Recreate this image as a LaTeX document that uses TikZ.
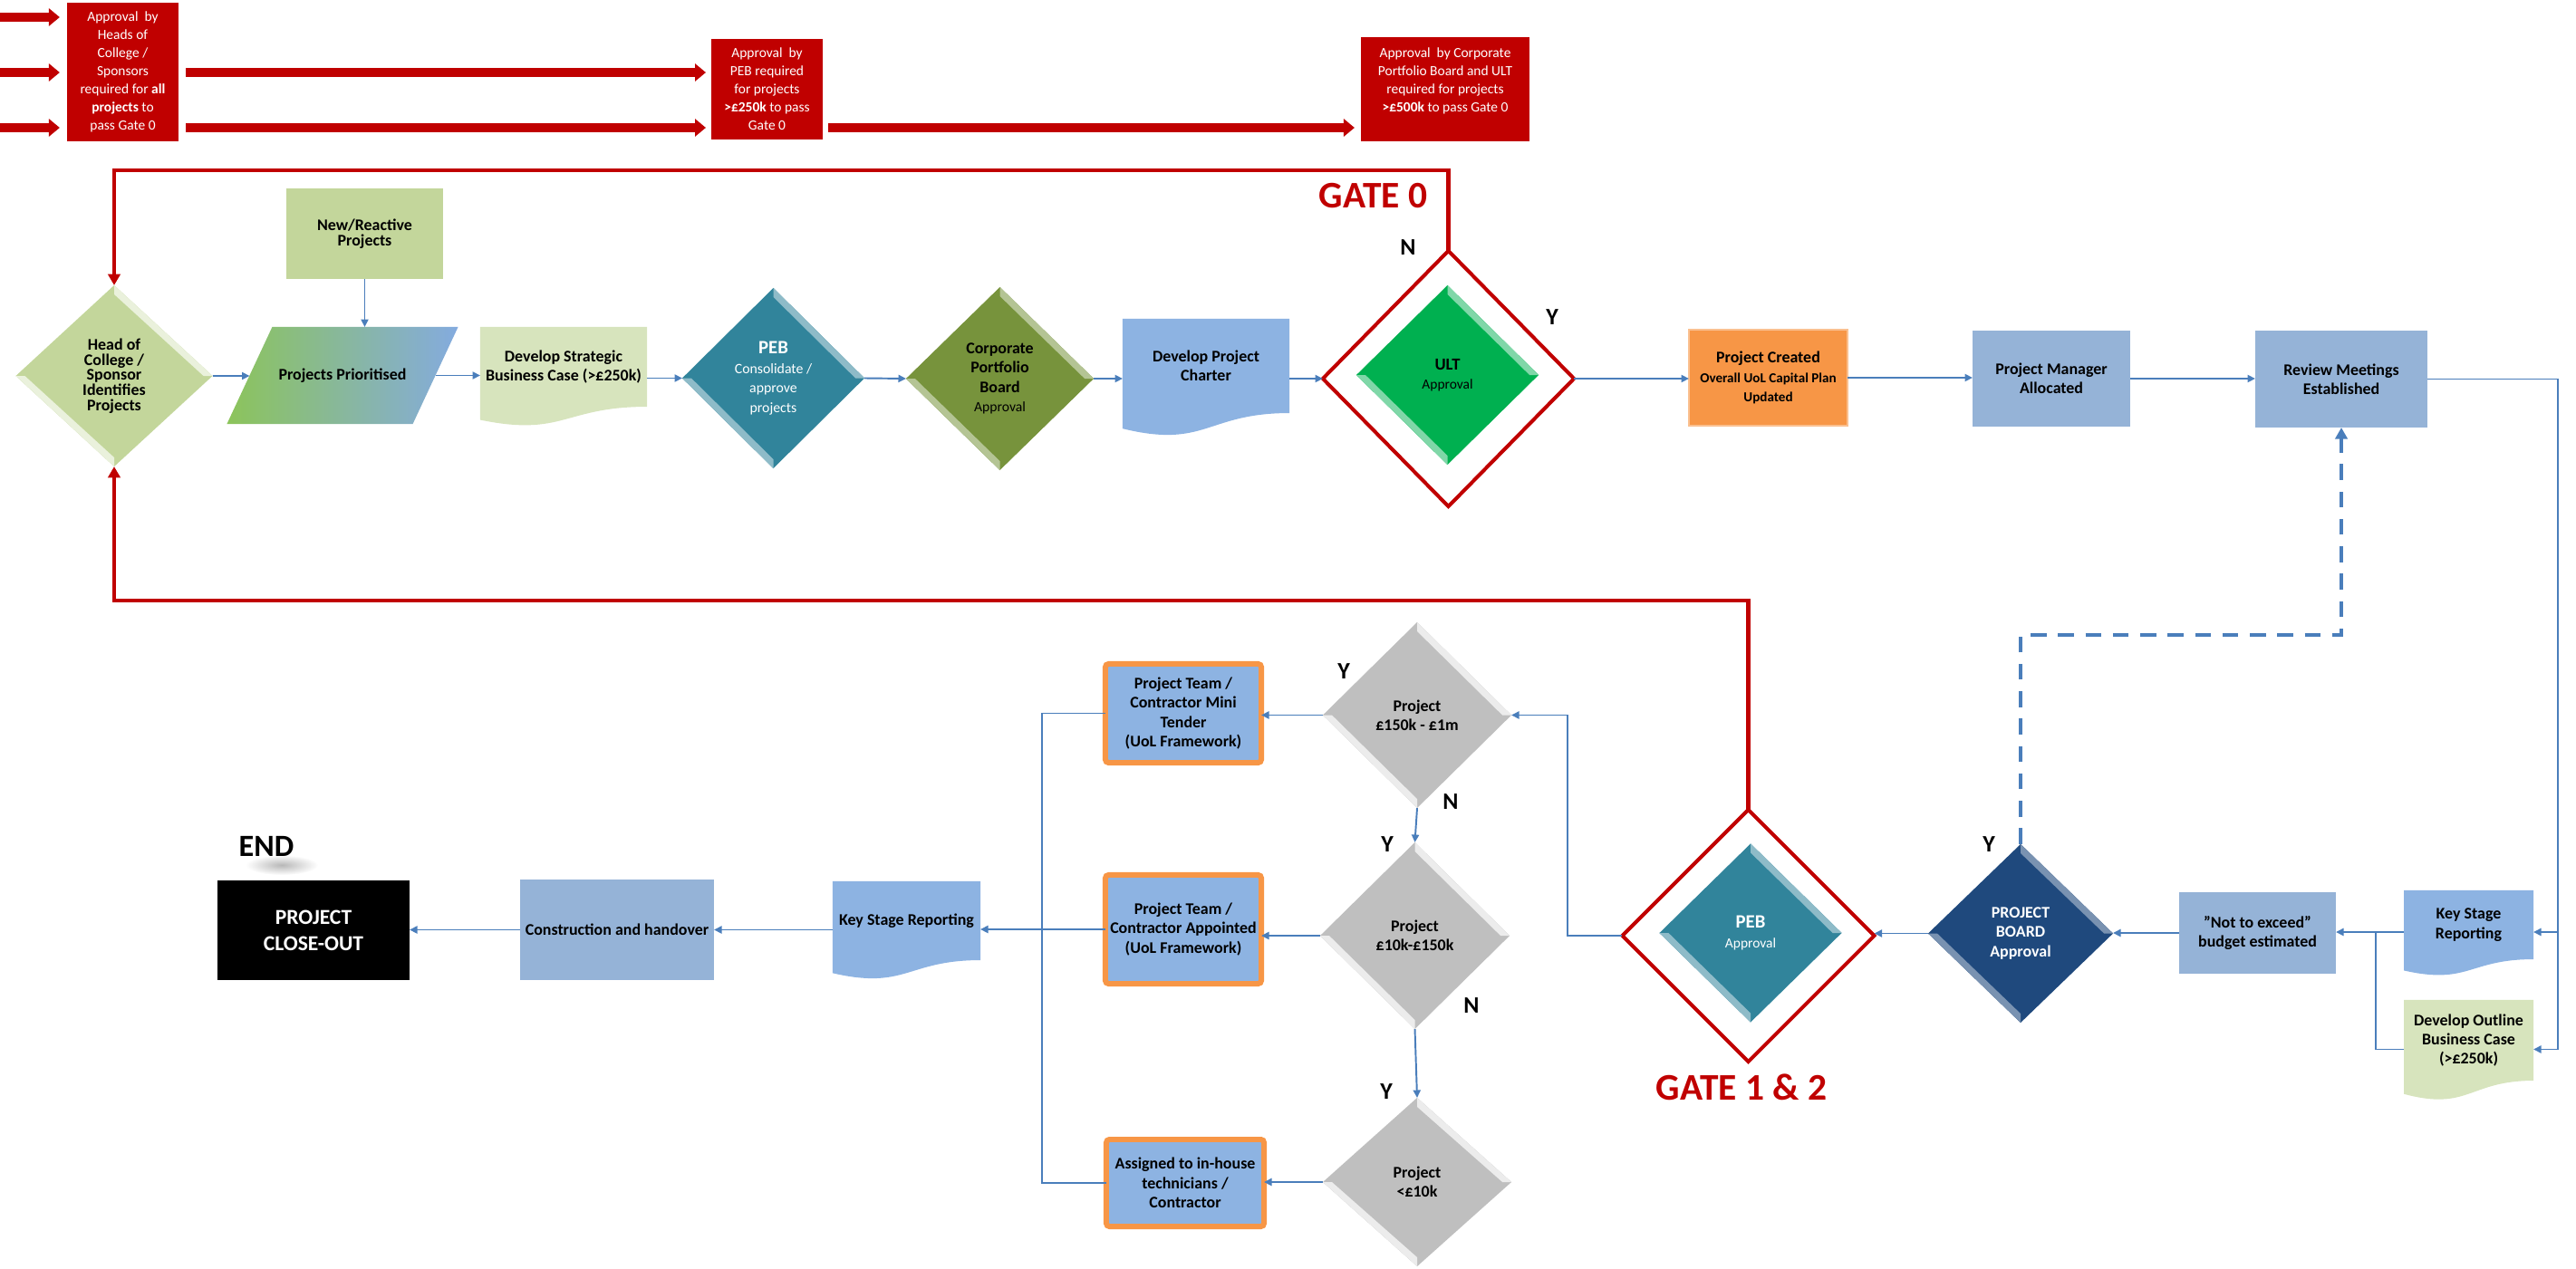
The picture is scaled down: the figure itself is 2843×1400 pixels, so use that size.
\documentclass[tikz,border=0pt]{standalone}
\usepackage{fontspec}
\setmainfont{Carlito}
\usetikzlibrary{shapes.geometric,arrows.meta,calc,backgrounds}

\definecolor{cRed}{HTML}{C00000}
\definecolor{cLeaf}{HTML}{C3D69B}
\definecolor{cPale}{HTML}{D7E4BD}
\definecolor{cTeal}{HTML}{31849B}
\definecolor{cOlive}{HTML}{77933C}
\definecolor{cSky}{HTML}{8DB3E2}
\definecolor{cSteel}{HTML}{95B3D7}
\definecolor{cUlt}{HTML}{00B050}
\definecolor{cOrange}{HTML}{F79646}
\definecolor{cNavy}{HTML}{1F497D}
\definecolor{cGrey}{HTML}{BFBFBF}
\definecolor{cLine}{HTML}{4A7EBB}
\definecolor{cGradA}{HTML}{8CC45A}
\definecolor{cGradB}{HTML}{7398C4}
\definecolor{cGradC}{HTML}{84ABDF}

\newcommand\fsz[2]{\fontsize{#1}{#2}\selectfont}
\newcommand\sm{\mdseries\fsz{4.5}{5.4}}
\newcommand\smb{\bfseries\fsz{4.3}{5.4}}

% light bevel strips on the upper-right and lower-left edges of a diamond
\newcommand\dbevel[2]{%
  \fill[#2] (#1.north) -- (#1.east) -- ($(#1.east)+(-10,0)$) -- ($(#1.north)+(0,10)$) -- cycle;
  \fill[#2] (#1.west) -- (#1.south) -- ($(#1.south)+(0,-10)$) -- ($(#1.west)+(10,0)$) -- cycle;}

% document shape: rectangle of the node plus a wavy lower edge
\newcommand\docfill[3]{%
  \fill[#2] (#1.north west) -- (#1.north east) -- (#1.south east)
    .. controls (#1.south) and ($(#1.south)+(0,0.305*#3)$)
    .. ($(#1.south west)+(0,0.132*#3)$) -- cycle;}

\tikzset{
  lbl/.style={inner sep=0pt, outer sep=0pt, align=center, font=\fsz{5.1}{6.1}\bfseries},
  dims/.style 2 args={minimum width=#1, minimum height=#2},
  rbox/.style={lbl, rectangle},
  dia/.style={lbl, diamond},
  ghost/.style={lbl, rectangle},
  redbox/.style={rectangle, fill=cRed, text=white, inner sep=0pt, outer sep=0pt, align=center, font=\fsz{4.4}{5.7}},
  conn/.style={draw=cLine, line width=0.55pt, -{Triangle[length=2.4pt,width=2.3pt]}},
  wire/.style={draw=cLine, line width=0.55pt},
  dashconn/.style={draw=cLine, line width=1.3pt, dash pattern=on 5pt off 3.6pt, -{Triangle[length=3.6pt,width=3.8pt]}},
  redloop/.style={draw=cRed, line width=1.4pt, -{Triangle[length=3.5pt,width=3.8pt]}},
  blockarrow/.style={draw=cRed, line width=2.8pt, -{Triangle[length=3.4pt,width=5.4pt]}},
  gate/.style={diamond, draw=cRed, line width=1.15pt, inner sep=0pt, outer sep=0pt},
  gatelbl/.style={text=cRed, font=\fsz{11.8}{12}\bfseries, inner sep=0pt},
  yn/.style={font=\fsz{7.4}{8}\bfseries, inner sep=0pt},
  tender/.style={lbl, rectangle, fill=cSky, draw=cOrange, line width=1.7pt, rounded corners=1pt},
}

\begin{document}
\begin{tikzpicture}[x=0.01cm,y=-0.01cm]
\useasboundingbox (0,0) rectangle (2843,1400);

% ---------- approval banners ----------
\node[redbox, dims={1.23cm}{1.53cm}] (r1) at (135.5,79.5)
  {Approval~ by\\Heads of\\College /\\Sponsors\\required for \textbf{all}\\\textbf{projects} to\\pass Gate 0};
\node[redbox, dims={1.23cm}{1.11cm}] (r2) at (846.5,98.5)
  {Approval~ by\\PEB required\\for projects\\\textbf{>£250k} to pass\\Gate 0};
\node[redbox, dims={1.86cm}{1.15cm}] (r3) at (1595,98.5)
  {Approval~ by Corporate\\Portfolio Board and ULT\\required for projects\\\textbf{>£500k} to pass Gate 0\\\mbox{}};

\coordinate (a1) at (0,19);
\coordinate (a2) at (0,80);
\coordinate (a3) at (0,141);
\draw[blockarrow, shorten >=2.3pt] (a1) -- (a1 -| r1.west);
\draw[blockarrow, shorten >=2.3pt] (a2) -- (a2 -| r1.west);
\draw[blockarrow, shorten >=2.3pt] (a3) -- (a3 -| r1.west);
\draw[blockarrow, shorten <=2.3pt, shorten >=1.7pt] (a2 -| r1.east) -- (a2 -| r2.west);
\draw[blockarrow, shorten <=2.3pt, shorten >=1.7pt] (a3 -| r1.east) -- (a3 -| r2.west);
\draw[blockarrow, shorten <=1.7pt, shorten >=2pt] (a3 -| r2.east) -- (a3 -| r3.west);

% ---------- upper row ----------
\node[dia, dims={2.17cm}{2.0cm}, fill=cLeaf, font=\fsz{5.1}{4.75}\bfseries] (h1) at (126,415)
  {Head of\\College /\\Sponsor\\Identifies\\Projects};
\node[rbox, dims={1.73cm}{1.0cm}, fill=cLeaf, font=\fsz{5.1}{4.9}\bfseries] (nr) at (402.5,258)
  {New/Reactive\\Projects};
\node[ghost, dims={2.05cm}{1.07cm}] (pp) at (378,414.5) {Projects Prioritised};
\node[ghost, dims={1.84cm}{0.88cm}] (ds) at (622,405) {Develop Strategic\\Business Case (>£250k)};
\node[dia, dims={2.01cm}{1.99cm}, fill=cTeal, text=white] (peb) at (853.5,417.5)
  {\fsz{5.9}{6.4}PEB\\\sm Consolidate /\\\sm approve\\\sm projects};
\node[dia, dims={2.07cm}{2.02cm}, fill=cOlive] (corp) at (1103.5,418)
  {Corporate\\Portfolio\\Board\\\mdseries\fsz{4.45}{6.1}Approval};
\node[ghost, dims={1.84cm}{1.04cm}] (ch) at (1331,404) {Develop Project\\Charter};
\node[gate, dims={2.77cm}{2.82cm}] (ulto) at (1598.5,418) {};
\node[dia, dims={2.01cm}{1.98cm}, fill=cUlt] (ulti) at (1597.5,414)
  {\fsz{5.3}{5.4}ULT\\\mdseries\fsz{4.4}{5.4}Approval};
\node[rbox, dims={1.75cm}{1.06cm}, fill=cOrange, draw=cOrange!60!white, line width=0.6pt] (pc) at (1951.5,417)
  {\fsz{5.1}{5.6}Project Created\\\smb Overall UoL Capital Plan\\\smb Updated};
\node[rbox, dims={1.74cm}{1.06cm}, fill=cSteel] (pma) at (2264,418) {Project Manager\\Allocated};
\node[rbox, dims={1.9cm}{1.07cm}, fill=cSteel] (rev) at (2584,418.5) {Review Meetings\\Established};

% ---------- lower right ----------
\node[ghost, dims={1.43cm}{0.76cm}] (kr) at (2724.5,1021) {Key Stage\\Reporting};
\node[ghost, dims={1.43cm}{0.89cm}] (dout) at (2724.5,1148.5) {Develop Outline\\Business Case\\(>£250k)};
\node[rbox, dims={1.73cm}{0.9cm}, fill=cSteel] (nte) at (2491.5,1030) {"Not to exceed"\\budget estimated};
\node[dia, dims={2.04cm}{1.97cm}, fill=cNavy, text=white] (pb) at (2230,1030.5) {PROJECT\\BOARD\\Approval};
\node[gate, dims={2.78cm}{2.78cm}] (g12o) at (1929.5,1033) {};
\node[dia, dims={2.01cm}{1.97cm}, fill=cTeal, text=white] (g12i) at (1932,1030)
  {\fsz{5.9}{6}PEB\\\mdseries\fsz{4.4}{6}Approval};

% ---------- cost decisions ----------
\node[dia, dims={2.08cm}{2.05cm}, fill=cGrey] (d1) at (1564,789.5) {Project\\£150k - £1m};
\node[dia, dims={2.09cm}{2.06cm}, fill=cGrey] (d2) at (1561.5,1033) {Project\\£10k-£150k};
\node[dia, dims={2.08cm}{1.86cm}, fill=cGrey] (d3) at (1564,1305) {Project\\<£10k};

\node[tender, dims={1.72cm}{1.09cm}] (bA) at (1306,787.5) {Project Team /\\Contractor Mini\\Tender\\(UoL Framework)};
\node[tender, dims={1.72cm}{1.2cm}] (bB) at (1306,1026) {Project Team /\\Contractor Appointed\\(UoL Framework)};
\node[tender, dims={1.74cm}{0.96cm}] (bC) at (1308,1306) {Assigned to in-house\\technicians /\\Contractor};

% ---------- lower left ----------
\node[ghost, dims={1.63cm}{0.87cm}] (kl) at (1000.5,1016.5) {Key Stage Reporting};
\node[rbox, dims={2.14cm}{1.11cm}, fill=cSteel] (con) at (681,1026.5) {Construction and handover};
\node[rbox, dims={2.12cm}{1.1cm}, fill=black, text=white, font=\fsz{6.7}{8.2}\bfseries] (co) at (346,1027)
  {PROJECT\\CLOSE-OUT};
\node[font=\fsz{9.7}{10}\bfseries, inner sep=0pt] (endl) at (294,934) {END};

% ---------- labels ----------
\node[gatelbl] (g0) at (1515.5,216.5) {GATE 0};
\node[gatelbl] (g12l) at (1922,1200) {GATE 1 \& 2};
\node[yn] (n0) at (1554,273) {N};
\node[yn] (y0) at (1713,350) {Y};
\node[yn] (ypb) at (2195,932) {Y};
\node[yn] (y1) at (1483,741) {Y};
\node[yn] (n1) at (1601,885) {N};
\node[yn] (y2) at (1531,932) {Y};
\node[yn] (n2) at (1624,1110) {N};
\node[yn] (y3) at (1530,1205) {Y};

% ---------- shapes behind the text ----------
\begin{scope}[on background layer]
  \shade[left color=cGradA, middle color=cGradB, right color=cGradC]
    ($(pp.south west)+(-25,0)$) -- ($(pp.south east)+(-25,0)$)
    -- ($(pp.north east)+(25,0)$) -- ($(pp.north west)+(25,0)$) -- cycle;
  \docfill{ds}{cPale}{110}
  \docfill{ch}{cSky}{130}
  \docfill{kr}{cSky}{94}
  \docfill{dout}{cPale}{111.5}
  \docfill{kl}{cSky}{108.4}
  \shade[inner color=black!28, outer color=white] (311,955) ellipse [x radius=0.4cm, y radius=0.11cm];
\end{scope}

% ---------- bevels ----------
\dbevel{h1}{cLeaf!35!white}
\dbevel{peb}{cTeal!55!white}
\dbevel{corp}{cOlive!55!white}
\dbevel{ulti}{cUlt!50!white}
\dbevel{pb}{cNavy!60!white}
\dbevel{g12i}{cTeal!55!white}
\dbevel{d1}{cGrey!30!white}
\dbevel{d2}{cGrey!30!white}
\dbevel{d3}{cGrey!30!white}

% ---------- connectors, upper row ----------
\draw[conn] (h1.east) -- (h1.east -| pp.west);
\draw[conn] (nr.south) -- (nr.south |- pp.north);
\draw[conn] (pp.east) -- (pp.east -| ds.west);
\draw[conn] (ds.east |- peb.west) -- (peb.west);
\draw[conn] (peb.east) -- (corp.west);
\draw[conn] (corp.east) -- (corp.east -| ch.west);
\draw[conn] (ch.east |- ulto.west) -- (ulto.west);
\draw[conn] (ulto.east) -- (ulto.east -| pc.west);
\draw[conn] (pc.east) -- (pc.east -| pma.west);
\draw[conn] (pma.east) -- (pma.east -| rev.west);

% ---------- connectors, right side ----------
\coordinate (rr) at (2823,418);
\coordinate (kin) at ($(kr.east)+(0,8)$);
\coordinate (din) at ($(dout.east)+(0,10)$);
\coordinate (br) at (2622,1029);
\draw[conn] (rev.east) -| (rr |- din) -- (din);
\draw[conn] (rr |- kin) -- (kin);
\draw[conn] (kin -| kr.west) -- (kin -| nte.east);
\draw[wire] (din -| dout.west) -- (din -| br) -- (br |- kin);
\draw[conn] (nte.west) -- (nte.west -| pb.east);
\draw[conn] (pb.west) -- (pb.west -| g12o.east);
\coordinate (gl) at (1730,1033);
\draw[conn] (g12o.west) -- (g12o.west -| gl) |- (d1.east);
\draw[dashconn] (pb.north) |- ($(rev.south)+(0,229)$) -- (rev.south);

% ---------- connectors, decisions ----------
\draw[conn] (d1.west) -- (d1.west -| bA.east);
\draw[conn] (d1.south) -- (d2.north);
\draw[conn] (d2.west) -- (d2.west -| bB.east);
\draw[conn] (d2.south) -- (d3.north);
\draw[conn] (d3.west) -- (d3.west -| bC.east);
\coordinate (bus) at (1150,1026);
\draw[wire] (bA.west) -- (bA.west -| bus) -- (bus |- bC.west) -- (bC.west);
\draw[wire] (bB.west) -- (bB.west -| bus);
\draw[conn] (bus |- bB.west) -- (bB.west -| kl.east);
\draw[conn] (kl.west |- con.east) -- (con.east);
\draw[conn] (con.west) -- (con.west -| co.east);

% ---------- gate loops ----------
\coordinate (rt) at (0,188);
\coordinate (rb) at (0,663);
\draw[redloop] (ulto.north) |- (h1.north |- rt) -- (h1.north);
\draw[redloop] (g12o.north) |- (h1.south |- rb) -- (h1.south);
\end{tikzpicture}
\end{document}
